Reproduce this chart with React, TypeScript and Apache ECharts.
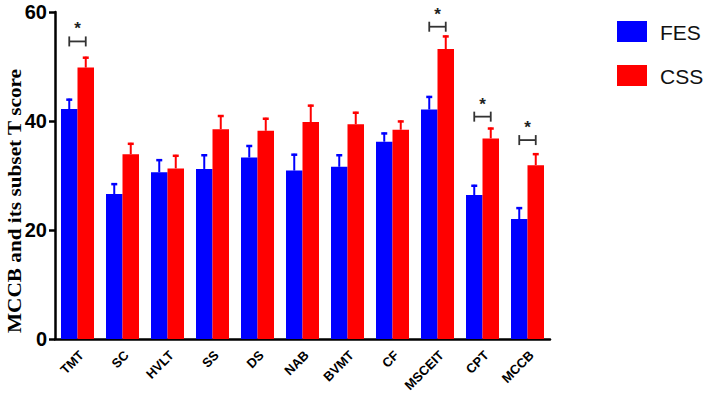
import React, { useEffect, useRef } from "react";
import * as echarts from "echarts";

const categories = ["TMT", "SC", "HVLT", "SS", "DS", "NAB", "BVMT", "CF", "MSCEIT", "CPT", "MCCB"];
const seriesNames = ["FES", "CSS"];
const fesMean = [42.2, 26.6, 30.6, 31.2, 33.3, 30.9, 31.6, 36.2, 42.1, 26.4, 22.0];
const fesUpper = [44.1, 28.6, 33.0, 33.9, 35.6, 34.0, 33.9, 37.9, 44.6, 28.3, 24.2];
const cssMean = [49.8, 33.9, 31.3, 38.5, 38.2, 39.8, 39.4, 38.4, 53.2, 36.8, 31.9];
const cssUpper = [51.8, 36.0, 33.8, 41.1, 40.6, 43.0, 41.7, 40.1, 55.7, 38.8, 34.1];
// significance brackets: [category index, bracket height value]
const sigBrackets = [
  [0, 54.6],
  [8, 57.3],
  [9, 40.8],
  [10, 36.5],
];
const yTicks = { min: 0, max: 60, interval: 20 };
const colors = ["#0000FF", "#FF0000"];

const BAR_W = 16.5;

export default function App() {
  const ref = useRef<HTMLDivElement>(null);
  useEffect(() => {
    document.body.style.margin = "0";
    const chart = echarts.init(ref.current!, undefined, { renderer: "svg" });

    chart.setOption({
      animation: false,
      grid: { left: 55, right: 161, top: 12, bottom: 81 },
      xAxis: {
        type: "category",
        data: categories,
        axisLine: { lineStyle: { color: "#000", width: 2.5 } },
        axisTick: { alignWithLabel: true, length: 6, lineStyle: { color: "#000", width: 2.5 } },
        axisLabel: { show: false },
      },
      yAxis: {
        type: "value",
        min: yTicks.min,
        max: yTicks.max,
        interval: yTicks.interval,
        axisLine: { show: true, lineStyle: { color: "#000", width: 2.5 } },
        axisTick: { show: true, length: 6, lineStyle: { color: "#000", width: 2.5 } },
        splitLine: { show: false },
        axisLabel: {
          margin: 8,
          fontSize: 20,
          fontWeight: "bold",
          fontFamily: "Liberation Sans, Arial",
          color: "#000",
        },
      },
      series: [
        { type: "bar", name: seriesNames[0], data: fesMean, barWidth: BAR_W, barGap: "0%", itemStyle: { color: colors[0] } },
        { type: "bar", name: seriesNames[1], data: cssMean, barWidth: BAR_W, barGap: "0%", itemStyle: { color: colors[1] } },
      ],
    });

    const px = (i: number, v: number) =>
      chart.convertToPixel({ xAxisIndex: 0, yAxisIndex: 0 }, [i, v]) as number[];

    const g: any[] = [];

    // rotated category labels
    categories.forEach((c, i) => {
      const p = px(i, 0);
      g.push({
        type: "group",
        x: p[0] + 4,
        y: p[1] + 14,
        rotation: Math.PI / 4,
        children: [
          {
            type: "text",
            style: { text: c, font: 'bold 13px "Liberation Sans", Arial', align: "right", verticalAlign: "middle" },
          },
        ],
      });
    });

    // error bars (upper half)
    const addErr = (means: number[], uppers: number[], color: string, offset: number) => {
      means.forEach((m, i) => {
        const p0 = px(i, m);
        const p1 = px(i, uppers[i]);
        const cx = p0[0] + offset;
        g.push({ type: "line", z: 10, shape: { x1: cx, y1: p0[1], x2: cx, y2: p1[1] }, style: { stroke: color, lineWidth: 2 } });
        g.push({ type: "line", z: 10, shape: { x1: cx - 3, y1: p1[1] + 1, x2: cx + 3, y2: p1[1] + 1 }, style: { stroke: color, lineWidth: 2.5 } });
      });
    };
    addErr(fesMean, fesUpper, colors[0], -BAR_W / 2);
    addErr(cssMean, cssUpper, colors[1], BAR_W / 2);

    // significance brackets
    sigBrackets.forEach(([ci, v]) => {
      const p = px(ci, v);
      const x1 = p[0] - BAR_W / 2;
      const x2 = p[0] + BAR_W / 2;
      const y = p[1];
      const st = { stroke: "#333", lineWidth: 1.8 };
      g.push({ type: "line", z: 10, shape: { x1, y1: y, x2, y2: y }, style: st });
      g.push({ type: "line", z: 10, shape: { x1, y1: y - 5, x2: x1, y2: y + 5 }, style: st });
      g.push({ type: "line", z: 10, shape: { x1: x2, y1: y - 5, x2, y2: y + 5 }, style: st });
      g.push({
        type: "text",
        z: 10,
        x: p[0],
        y: y - 4,
        style: { text: "*", font: 'bold 17px "Liberation Sans", Arial', fill: "#222", align: "center", verticalAlign: "bottom" },
      });
    });

    // y-axis title
    g.push({
      type: "group",
      x: 14,
      y: 201,
      rotation: Math.PI / 2,
      children: [
        {
          type: "text",
          scaleX: 1.12,
          style: {
            text: "MCCB and its subset T score",
            font: 'bold 19px "Liberation Serif", "Times New Roman", serif',
            fill: "#000",
            align: "center",
            verticalAlign: "middle",
          },
        },
      ],
    });

    // legend
    seriesNames.forEach((n, k) => {
      g.push({ type: "rect", shape: { x: 617, y: 21 + k * 44, width: 30, height: 21 }, style: { fill: colors[k] } });
      g.push({
        type: "text",
        x: 660,
        y: 21 + k * 44 + 11,
        style: { text: n, font: '21px "Liberation Sans", Arial', fill: "#111", verticalAlign: "middle" },
      });
    });

    chart.setOption({ graphic: g });

    return () => chart.dispose();
  }, []);
  return <div ref={ref} style={{ width: 711, height: 420 }} />;
}
